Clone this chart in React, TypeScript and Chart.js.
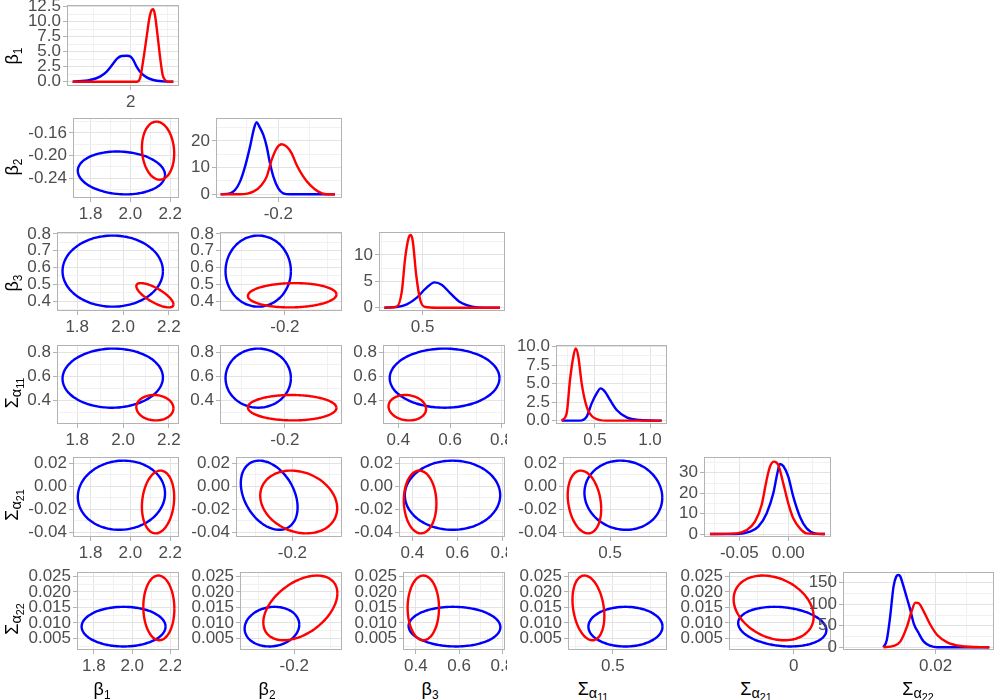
import React, { useEffect, useRef } from "react";
import { Chart, registerables } from "chart.js";
Chart.register(...registerables);

// ---------------- data ----------------
const BLUE = "#0000FF";
const RED = "#FF0000";

// Ellipse parameters per variable: [β1, β2, β3, Σα11, Σα21, Σα22]
const blueCenter = [1.955, -0.231, 0.5785, 0.5845, -0.0078, 0.0088];
const blueHalf = [0.219, 0.038, 0.212, 0.2465, 0.0302, 0.0064];
const redCenter = [2.139, -0.1915, 0.4345, 0.338, -0.0137, 0.01485];
const redHalf = [0.081, 0.0515, 0.0725, 0.106, 0.0274, 0.01045];
// correlations (row variable i, column variable j < i)
const rhoBlue = [[], [-0.1], [0.0, 0.0], [0.02, 0.0, 0.0], [0.05, -0.35, 0.0, -0.07], [0.0, 0.1, -0.03, 0.0, -0.18]];
const rhoRed = [[], [-0.1], [-0.75, 0.06], [-0.05, -0.02, -0.1], [0.15, -0.2, -0.05, -0.22], [-0.03, 0.45, 0.0, -0.25, -0.27]];

// Density curves (diagonal)
const b1BlueX = [1.608, 1.725, 1.793, 1.838, 1.883, 1.91, 1.939, 1.973, 2.0, 2.018, 2.04, 2.063, 2.108, 2.153, 2.22, 2.288];
const b1BlueY = [0.0, 0.28, 0.84, 1.67, 3.06, 3.89, 4.28, 4.33, 4.17, 3.61, 2.5, 1.67, 0.72, 0.28, 0.06, 0.0];
const b1RedX = [1.608, 2.04, 2.063, 2.085, 2.108, 2.126, 2.142, 2.153, 2.164, 2.18, 2.198, 2.216, 2.232, 2.254, 2.288];
const b1RedY = [0, 0, 0.56, 3.61, 7.5, 10.56, 11.94, 12.06, 11.11, 8.06, 4.17, 1.11, 0.28, 0, 0];

const b2BlueX = [-0.2909, -0.2762, -0.2683, -0.2604, -0.2525, -0.2446, -0.2383, -0.2341, -0.2299, -0.2236, -0.2183, -0.2131, -0.2078, -0.2, -0.1921, -0.1816, -0.1106];
const b2BlueY = [0, 0.37, 1.62, 4.75, 10.37, 17.87, 24.75, 27.0, 25.37, 22.25, 17.87, 11.62, 6.62, 2.25, 0.37, 0, 0];
const b2RedX = [-0.2909, -0.2604, -0.2394, -0.2263, -0.2183, -0.2105, -0.2026, -0.1947, -0.1868, -0.1789, -0.171, -0.1605, -0.15, -0.1369, -0.1237, -0.1106];
const b2RedY = [0, 0, 1.0, 3.5, 6.62, 12.87, 17.25, 18.75, 17.87, 15.37, 11.0, 6.62, 3.5, 1.0, 0, 0];

const b3BlueX = [0.2685, 0.3437, 0.4047, 0.4657, 0.5165, 0.5734, 0.6181, 0.6689, 0.7299, 0.801, 0.8721, 0.9697];
const b3BlueY = [0, 0.13, 0.63, 1.9, 3.55, 4.81, 4.31, 2.72, 1.01, 0.19, 0, 0];
const b3RedX = [0.2685, 0.3437, 0.3742, 0.3945, 0.4148, 0.4291, 0.4413, 0.4616, 0.486, 0.5165, 0.5874, 0.9697];
const b3RedY = [0, 0.19, 3.04, 9.36, 13.16, 13.79, 12.52, 6.2, 1.46, 0.13, 0, 0];

const s11RedX = [0.197, 0.2424, 0.2727, 0.303, 0.3242, 0.3485, 0.3788, 0.4242, 0.4848, 0.6061, 1.106];
const s11RedY = [0, 0.99, 5.5, 8.65, 9.78, 8.65, 5.05, 1.9, 0.45, 0, 0];
const s11BlueX = [0.197, 0.3636, 0.4242, 0.4697, 0.5152, 0.5515, 0.5909, 0.6364, 0.697, 0.7879, 0.9091, 1.106];
const s11BlueY = [0, 0, 0.54, 2.34, 3.7, 4.37, 3.92, 2.8, 1.45, 0.45, 0.09, 0];

const s21RedX = [-0.0799, -0.0527, -0.0425, -0.034, -0.0272, -0.0221, -0.0187, -0.0146, -0.0102, -0.0051, 0.0, 0.0051, 0.0119, 0.0187, 0.0374];
const s21RedY = [0, 0.33, 1.96, 6.05, 14.2, 26.5, 33.0, 35.5, 33.8, 24.8, 15.0, 7.68, 2.78, 0.33, 0];
const s21BlueX = [-0.0799, -0.0527, -0.0391, -0.0306, -0.0221, -0.0153, -0.0112, -0.0085, -0.0051, 0.0, 0.0051, 0.0119, 0.0187, 0.0272, 0.0374];
const s21BlueY = [0, 0, 1.14, 3.59, 10.1, 19.9, 29.7, 34.3, 33.3, 28.1, 18.3, 8.5, 2.78, 0.33, 0];

const s22BlueX = [0.00333, 0.00441, 0.00548, 0.00656, 0.00742, 0.00817, 0.00871, 0.00978, 0.01086, 0.01194, 0.01301, 0.01462, 0.01624, 0.01839, 0.02054, 0.0372];
const s22BlueY = [0, 17.1, 71.3, 141.1, 164.3, 168, 165, 141, 114, 86.8, 55.8, 32.6, 13.2, 3.1, 0, 0];
const s22RedX = [0.00333, 0.00656, 0.00871, 0.01086, 0.01247, 0.01355, 0.01462, 0.01624, 0.01839, 0.02054, 0.02376, 0.02806, 0.0372];
const s22RedY = [0, 3.1, 13.2, 48.1, 86.8, 103.9, 102.3, 83, 51.9, 28.7, 11.6, 3.1, 0];

const diagBlueX = [b1BlueX, b2BlueX, b3BlueX, s11BlueX, s21BlueX, s22BlueX];
const diagBlueY = [b1BlueY, b2BlueY, b3BlueY, s11BlueY, s21BlueY, s22BlueY];
const diagRedX = [b1RedX, b2RedX, b3RedX, s11RedX, s21RedX, s22RedX];
const diagRedY = [b1RedY, b2RedY, b3RedY, s11RedY, s21RedY, s22RedY];

// Tick values and labels
const ellXTicks = [[1.8, 2.0, 2.2], [-0.2], [0.4, 0.6, 0.8], [0.5], [0]];
const ellXLabels = [["1.8", "2.0", "2.2"], ["-0.2"], ["0.4", "0.6", "0.8"], ["0.5"], ["0"]];
const ellXSteps = [0.2, 0.1, 0.2, 0.5, 0.05];
const ellYTicks = [[], [-0.24, -0.2, -0.16], [0.4, 0.5, 0.6, 0.7, 0.8], [0.4, 0.6, 0.8], [-0.04, -0.02, 0, 0.02], [0.005, 0.01, 0.015, 0.02, 0.025]];
const ellYLabels = [[], ["-0.24", "-0.20", "-0.16"], ["0.4", "0.5", "0.6", "0.7", "0.8"], ["0.4", "0.6", "0.8"], ["-0.04", "-0.02", "0.00", "0.02"], ["0.005", "0.010", "0.015", "0.020", "0.025"]];
const ellYSteps = [1, 0.04, 0.1, 0.2, 0.02, 0.005];

const diagXTicks = [[2], [-0.2], [0.5], [0.5, 1.0], [-0.05, 0], [0.02]];
const diagXLabels = [["2"], ["-0.2"], ["0.5"], ["0.5", "1.0"], ["-0.05", "0.00"], ["0.02"]];
const diagXSteps = [0.5, 0.1, 0.5, 0.5, 0.05, 0.02];
const diagXRange = [[1.5696, 2.3264], [-0.2983, -0.0995], [0.236, 1.0], [0.1455, 1.1545], [-0.086, 0.0436], [-0.0096, 0.0387]];
const diagYTicks = [[0, 2.5, 5, 7.5, 10, 12.5], [0, 10, 20], [0, 5, 10], [0, 2.5, 5, 7.5, 10], [0, 10, 20, 30], [0, 50, 100, 150]];
const diagYLabels = [["0.0", "2.5", "5.0", "7.5", "10.0", "12.5"], ["0", "10", "20"], ["0", "5", "10"], ["0.0", "2.5", "5.0", "7.5", "10.0"], ["0", "10", "20", "30"], ["0", "50", "100", "150"]];
const diagYSteps = [2.5, 10, 5, 2.5, 10, 50];
const diagYRange = [[-0.717, 12.78], [-1.39, 28.61], [-0.63, 14.36], [-0.45, 10.23], [-1.47, 37.75], [-6.3, 175.1]];

// ---------------- layout ----------------
const rowTop = [5, 118, 232, 345, 457, 572];
const rowBottom = [86, 198, 311, 424, 537, 650];
const colRight = [179, 342, 505, 667, 831, 994];
const panelLeft = [[67], [73, 216], [57, 220, 379], [57, 220, 383, 556], [73, 236, 399, 563, 704], [77, 240, 403, 568, 729, 843]];
const YW = 60, PT = 10, PR = 2, XH = 26;
const FONT = "'Liberation Sans', Arial, sans-serif";
const GRID_MAJOR = "#E3E3E3";
const GRID_MINOR = "#F1F1F1";
const TICK_COLOR = "#B3B3B3";
const BORDER_COLOR = "#B3B3B3";
const TEXT_COLOR = "#4D4D4D";

type Axis = { min: number; max: number; ticks: number[]; labels: string[]; step: number };
type Pt = { x: number; y: number };
type Panel = { key: string; left: number; top: number; right: number; bottom: number; xAxis: Axis; yAxis: Axis; series: { pts: Pt[]; color: string; smooth: boolean }[] };

function ellipse(cx: number, ax: number, cy: number, by: number, rho: number): Pt[] {
  const pts: Pt[] = [];
  const s = Math.sqrt(1 - rho * rho);
  const n = 120;
  for (let k = 0; k <= n; k++) {
    const t = (2 * Math.PI * k) / n;
    pts.push({ x: cx + ax * Math.cos(t), y: cy + by * (rho * Math.cos(t) + s * Math.sin(t)) });
  }
  return pts;
}

function varDomain(v: number): [number, number] {
  const lo = Math.min(blueCenter[v] - blueHalf[v], redCenter[v] - redHalf[v]);
  const hi = Math.max(blueCenter[v] + blueHalf[v], redCenter[v] + redHalf[v]);
  const w = hi - lo;
  return [lo - 0.05 * w, hi + 0.05 * w];
}

function zip(xs: number[], ys: number[]): Pt[] {
  return xs.map((x, i) => ({ x, y: ys[i] }));
}

function buildPanels(): Panel[] {
  const out: Panel[] = [];
  for (let r = 0; r < 6; r++) {
    for (let c = 0; c <= r; c++) {
      const base = { key: r + "-" + c, left: panelLeft[r][c], top: rowTop[r], right: colRight[c], bottom: rowBottom[r] };
      if (r === c) {
        out.push({
          ...base,
          xAxis: { min: diagXRange[r][0], max: diagXRange[r][1], ticks: diagXTicks[r], labels: diagXLabels[r], step: diagXSteps[r] },
          yAxis: { min: diagYRange[r][0], max: diagYRange[r][1], ticks: diagYTicks[r], labels: diagYLabels[r], step: diagYSteps[r] },
          series: [
            { pts: zip(diagRedX[r], diagRedY[r]), color: RED, smooth: true },
            { pts: zip(diagBlueX[r], diagBlueY[r]), color: BLUE, smooth: true },
          ],
        });
      } else {
        const xd = varDomain(c);
        const yd = varDomain(r);
        out.push({
          ...base,
          xAxis: { min: xd[0], max: xd[1], ticks: ellXTicks[c], labels: ellXLabels[c], step: ellXSteps[c] },
          yAxis: { min: yd[0], max: yd[1], ticks: ellYTicks[r], labels: ellYLabels[r], step: ellYSteps[r] },
          series: [
            { pts: ellipse(redCenter[c], redHalf[c], redCenter[r], redHalf[r], rhoRed[r][c]), color: RED, smooth: false },
            { pts: ellipse(blueCenter[c], blueHalf[c], blueCenter[r], blueHalf[r], rhoBlue[r][c]), color: BLUE, smooth: false },
          ],
        });
      }
    }
  }
  return out;
}

function minorsOf(a: Axis): number[] {
  const t0 = a.ticks[0];
  const out: number[] = [];
  const k0 = Math.floor((a.min - t0) / a.step) - 1;
  const k1 = Math.ceil((a.max - t0) / a.step) + 1;
  for (let k = k0; k <= k1; k++) {
    const v = t0 + (k + 0.5) * a.step;
    if (v > a.min && v < a.max) out.push(v);
  }
  return out;
}

function axisOptions(a: Axis, horizontal: boolean) {
  const minors = minorsOf(a);
  const all = [...a.ticks, ...minors];
  const tol = a.step * 1e-3;
  const majorIndex = (v: number) => a.ticks.findIndex((t) => Math.abs(t - v) < tol);
  return {
    type: "linear" as const,
    min: a.min,
    max: a.max,
    afterBuildTicks: (s: any) => {
      s.ticks = all.map((v) => ({ value: v }));
    },
    afterFit: (s: any) => {
      if (horizontal) s.height = XH;
      else s.width = YW;
      s.paddingLeft = 0;
      s.paddingRight = 0;
      s.paddingTop = 0;
      s.paddingBottom = 0;
    },
    ticks: {
      autoSkip: false,
      maxRotation: 0,
      minRotation: 0,
      padding: 2,
      color: TEXT_COLOR,
      font: { family: FONT, size: 17 },
      callback: (v: any) => {
        const i = majorIndex(Number(v));
        return i >= 0 ? a.labels[i] : "";
      },
    },
    grid: {
      color: (ctx: any) => (ctx.tick && majorIndex(ctx.tick.value) >= 0 ? GRID_MAJOR : GRID_MINOR),
      lineWidth: 1,
      drawTicks: true,
      tickLength: 4,
      tickWidth: 1,
      tickColor: (ctx: any) => (ctx.tick && majorIndex(ctx.tick.value) >= 0 ? TICK_COLOR : "rgba(0,0,0,0)"),
    },
    border: { display: false },
  };
}

const borderPlugin = {
  id: "panelBorder",
  afterDraw(chart: any) {
    const { ctx, chartArea: a } = chart;
    ctx.save();
    ctx.strokeStyle = BORDER_COLOR;
    ctx.lineWidth = 1;
    ctx.strokeRect(Math.round(a.left) + 0.5, Math.round(a.top) + 0.5, Math.round(a.right - a.left) - 1, Math.round(a.bottom - a.top) - 1);
    ctx.restore();
  },
};

function PanelCanvas({ p }: { p: Panel }) {
  const ref = useRef<HTMLCanvasElement>(null);
  const W = YW + (p.right - p.left) + PR;
  const H = PT + (p.bottom - p.top) + XH;
  useEffect(() => {
    const chart = new Chart(ref.current as HTMLCanvasElement, {
      type: "scatter",
      data: {
        datasets: p.series.map((s) => ({
          data: s.pts,
          showLine: true,
          borderColor: s.color,
          backgroundColor: s.color,
          borderWidth: 2.4,
          pointRadius: 0,
          pointHoverRadius: 0,
          fill: false,
          tension: s.smooth ? 0.4 : 0.25,
          cubicInterpolationMode: s.smooth ? ("monotone" as const) : ("default" as const),
        })),
      },
      options: {
        animation: false,
        responsive: false,
        maintainAspectRatio: false,
        events: [],
        layout: { padding: { top: PT, right: PR, left: 0, bottom: 0 }, autoPadding: false },
        plugins: { legend: { display: false }, tooltip: { enabled: false }, title: { display: false } },
        scales: {
          x: axisOptions(p.xAxis, true) as any,
          y: axisOptions(p.yAxis, false) as any,
        },
      },
      plugins: [borderPlugin],
    });
    return () => chart.destroy();
  }, []);
  return (
    <canvas
      ref={ref}
      width={W}
      height={H}
      style={{ position: "absolute", left: p.left - YW, top: p.top - PT, width: W, height: H }}
    />
  );
}

// Axis titles
const sub1: React.CSSProperties = { fontSize: "0.66em", position: "relative", top: "0.3em" };
const subA: React.CSSProperties = { fontSize: "0.8em", position: "relative", top: "0.22em" };
const subB: React.CSSProperties = { fontSize: "0.75em", position: "relative", top: "0.22em" };
function VarLabel({ v }: { v: number }) {
  if (v < 3) return <span>β<span style={sub1}>{String(v + 1)}</span></span>;
  const idx = ["11", "21", "22"][v - 3];
  return (
    <span>
      Σ<span style={subA}>α<span style={subB}>{idx}</span></span>
    </span>
  );
}
const xTitlePos = [[102, 680], [267, 680], [430, 680], [593, 680], [756, 680], [918, 680]];
const yTitlePos = [[12, 56], [12, 167], [12, 283], [12, 393], [12, 505], [12, 619]];

export default function App() {
  const panels = buildPanels();
  const titleBase: React.CSSProperties = {
    position: "absolute",
    fontFamily: FONT,
    fontSize: 18,
    color: "#000",
    whiteSpace: "nowrap",
    lineHeight: 1,
  };
  return (
    <div style={{ position: "absolute", left: 0, top: 0, width: 1000, height: 700, background: "#fff", overflow: "hidden" }}>
      {panels.map((p) => (
        <PanelCanvas key={p.key} p={p} />
      ))}
      {xTitlePos.map((pos, i) => (
        <div key={"xt" + i} style={{ ...titleBase, left: pos[0], top: pos[1], transform: "translate(-50%, 0)" }}>
          <VarLabel v={i} />
        </div>
      ))}
      {yTitlePos.map((pos, i) => (
        <div key={"yt" + i} style={{ ...titleBase, left: pos[0], top: pos[1], transform: "translate(-50%, -50%) rotate(-90deg)" }}>
          <VarLabel v={i} />
        </div>
      ))}
    </div>
  );
}
